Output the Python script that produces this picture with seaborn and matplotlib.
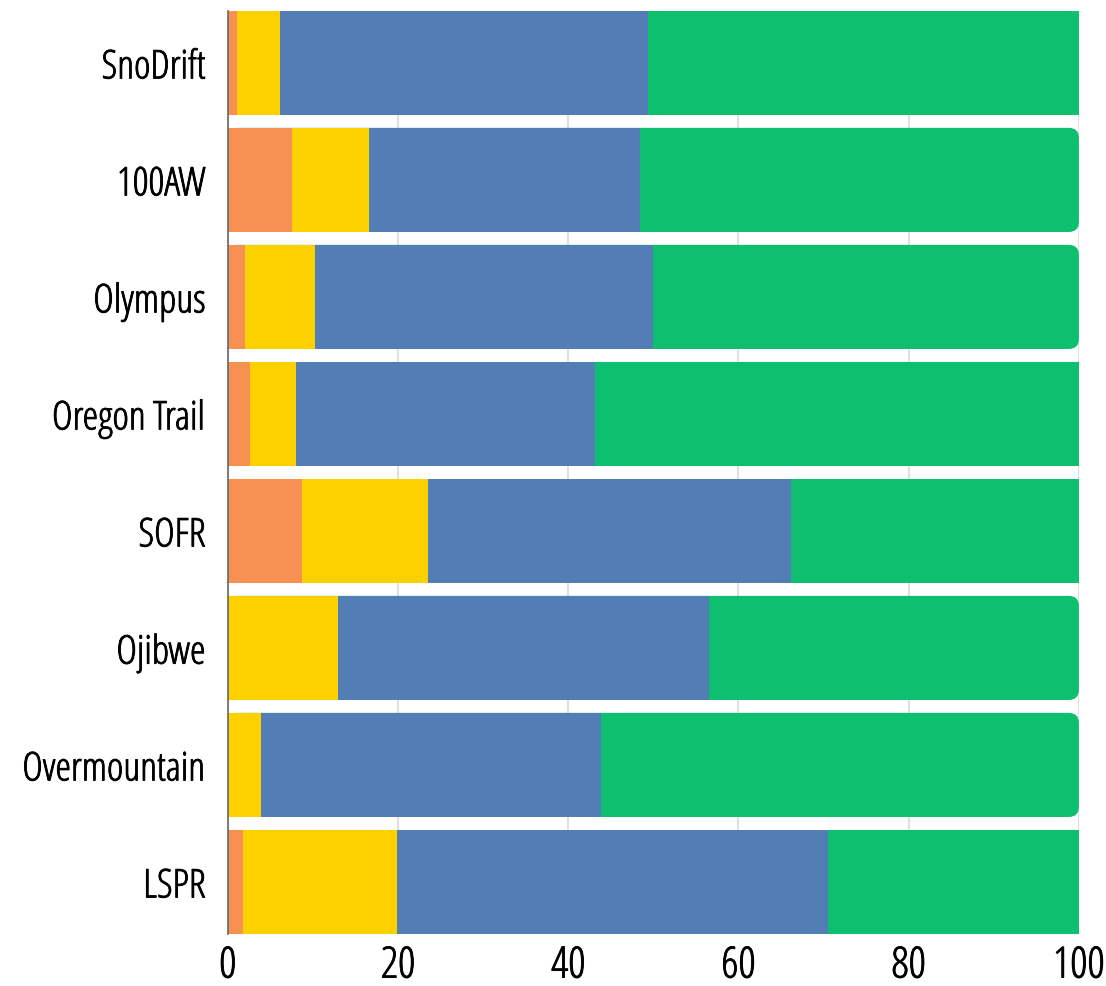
import numpy as np
import pandas as pd
import matplotlib
matplotlib.use("Agg")
import matplotlib.pyplot as plt
import matplotlib.patheffects as pe
from matplotlib.patches import FancyBboxPatch
import seaborn as sns

# -------------------------------
# Data (percent shares)
# -------------------------------
routes = ["SnoDrift", "100AW", "Olympus", "Oregon Trail",
          "SOFR", "Ojibwe", "Overmountain", "LSPR"]
seg_orange = [1.1, 7.5, 2.0, 2.6, 8.7, 0.0, 0.0, 1.8]
seg_yellow = [5.0, 9.1, 8.3, 5.4, 14.8, 12.9, 3.9, 18.1]
seg_blue = [43.3, 31.8, 39.6, 35.2, 42.7, 43.6, 40.0, 50.6]
seg_green = [50.6, 51.6, 50.1, 56.8, 33.8, 43.5, 56.1, 29.5]
rounded = ["100AW", "Olympus", "Ojibwe", "Overmountain"]

colors = ["#F79153", "#FDD100", "#527DB5", "#0DBF6E"]

df = pd.DataFrame({"route": routes, "orange": seg_orange, "yellow": seg_yellow,
                   "blue": seg_blue, "green": seg_green})
cols = ["orange", "yellow", "blue", "green"]
cum = df[cols].cumsum(axis=1)

# -------------------------------
# Plot
# -------------------------------
sns.set_style("white")
plt.rcParams["font.family"] = ["Open Sans", "DejaVu Sans"]
plt.rcParams["font.stretch"] = "condensed"

fig = plt.figure(figsize=(11.06, 9.87), dpi=100)
ax = fig.add_axes([0.206, 0.0527, 0.7695, 0.9353])

# draw back to front: full cumulative first
for col, color in reversed(list(zip(cols, colors))):
    sns.barplot(x=cum[col], y=df["route"], orient="h", color=color,
                width=0.89, saturation=1, linewidth=0, ax=ax, zorder=2)

# round the right corners of some green bars
green_patches = ax.patches[:len(routes)]
for p, r in zip(green_patches, routes):
    if r in rounded:
        p.set_visible(False)
        fb = FancyBboxPatch((p.get_x(), p.get_y()), p.get_width(), p.get_height(),
                            boxstyle="round,pad=0,rounding_size=1.2",
                            mutation_aspect=0.072, facecolor=p.get_facecolor(),
                            edgecolor="none", zorder=1.9)
        ax.add_patch(fb)

ax.set_xlim(0, 100)
ax.set_ylim(len(routes) - 0.555, -0.445)
ax.set_xticks([0, 20, 40, 60, 80, 100])
ax.xaxis.grid(True, color="#E0E0E0", linewidth=1.5, zorder=0)
ax.set_axisbelow(True)
ax.set_xlabel("")
ax.set_ylabel("")

for s in ["top", "right", "bottom"]:
    ax.spines[s].set_visible(False)
ax.spines["left"].set_color("#666666")
ax.spines["left"].set_linewidth(1.2)

ax.tick_params(axis="x", length=0, labelsize=31, pad=8, colors="black")
ax.tick_params(axis="y", length=0, labelsize=28.5, pad=16, colors="black")

# thicken the light condensed glyphs a bit
bold_fx = [pe.withStroke(linewidth=0.6, foreground="black")]
for lab in ax.get_xticklabels() + ax.get_yticklabels():
    lab.set_path_effects(bold_fx)

plt.savefig("out.png", dpi=100)
